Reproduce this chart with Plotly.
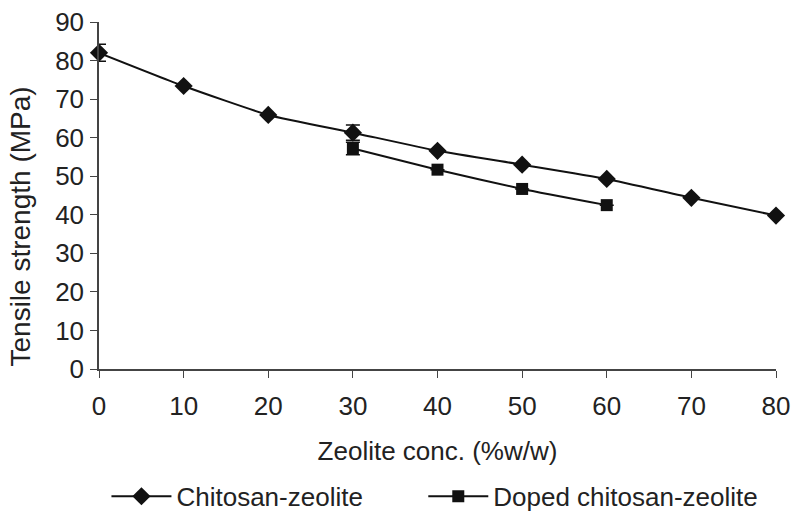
import plotly.graph_objects as go

# Zeolite loading (% w/w) and tensile strength (MPa)
conc_chitosan = [0, 10, 20, 30, 40, 50, 60, 70, 80]
ts_chitosan = [82.0, 73.4, 65.9, 61.3, 56.6, 53.0, 49.3, 44.4, 39.8]
err_chitosan = [2.2, 0, 0, 2.0, 0, 0, 0, 0, 0]

conc_doped = [30, 40, 50, 60]
ts_doped = [57.2, 51.7, 46.7, 42.5]
err_doped = [1.6, 0, 0, 0]

x_ticks = [0, 10, 20, 30, 40, 50, 60, 70, 80]
y_ticks = [0, 10, 20, 30, 40, 50, 60, 70, 80, 90]

FONT = "Liberation Sans, Arial, sans-serif"
INK = "#111111"
TEXT = "#222222"

fig = go.Figure()

fig.add_trace(go.Scatter(
    x=conc_chitosan, y=ts_chitosan, name="Chitosan-zeolite",
    mode="lines+markers", legend="legend",
    line=dict(color=INK, width=2, shape="spline", smoothing=0.5),
    marker=dict(symbol="diamond", size=14, color=INK),
    error_y=dict(type="data", array=err_chitosan, color=INK, thickness=1.5, width=7),
    cliponaxis=False,
))

fig.add_trace(go.Scatter(
    x=conc_doped, y=ts_doped, name="Doped chitosan-zeolite",
    mode="lines+markers", legend="legend2",
    line=dict(color=INK, width=2, shape="spline", smoothing=0.5),
    marker=dict(symbol="square", size=12, color=INK),
    error_y=dict(type="data", array=err_doped, color=INK, thickness=1.5, width=7),
    cliponaxis=False,
))

legend_common = dict(
    orientation="h", xanchor="left", y=-0.367, yanchor="middle",
    font=dict(size=26), itemwidth=60, bgcolor="rgba(0,0,0,0)",
)

fig.update_layout(
    width=792, height=513,
    margin=dict(l=99, r=16, t=22, b=144, autoexpand=False),
    paper_bgcolor="white", plot_bgcolor="white",
    font=dict(family=FONT, size=26, color=TEXT),
    showlegend=True,
    legend=dict(x=0.011, **legend_common),
    legend2=dict(x=0.479, **legend_common),
    xaxis=dict(
        range=[0, 80], tickvals=x_ticks, ticks="outside", ticklen=7,
        tickcolor="#444", showline=True, linecolor="#444", linewidth=1.5,
        showgrid=False, zeroline=False, ticklabelstandoff=6,
        title=dict(text="Zeolite conc. (%w/w)", standoff=22, font=dict(size=26)),
    ),
    yaxis=dict(
        range=[0, 90], tickvals=y_ticks, ticks="outside", ticklen=7,
        tickcolor="#444", showline=True, linecolor="#444", linewidth=1.5,
        showgrid=False, zeroline=False, ticklabelstandoff=1,
        title=dict(text=""),
    ),
)

fig.add_annotation(
    text="Tensile strength (MPa)", xref="paper", yref="paper",
    x=-0.116, y=0.412, xanchor="center", yanchor="middle", textangle=-90,
    showarrow=False, font=dict(size=28, family=FONT, color=TEXT),
)

fig.write_html("out.html")
